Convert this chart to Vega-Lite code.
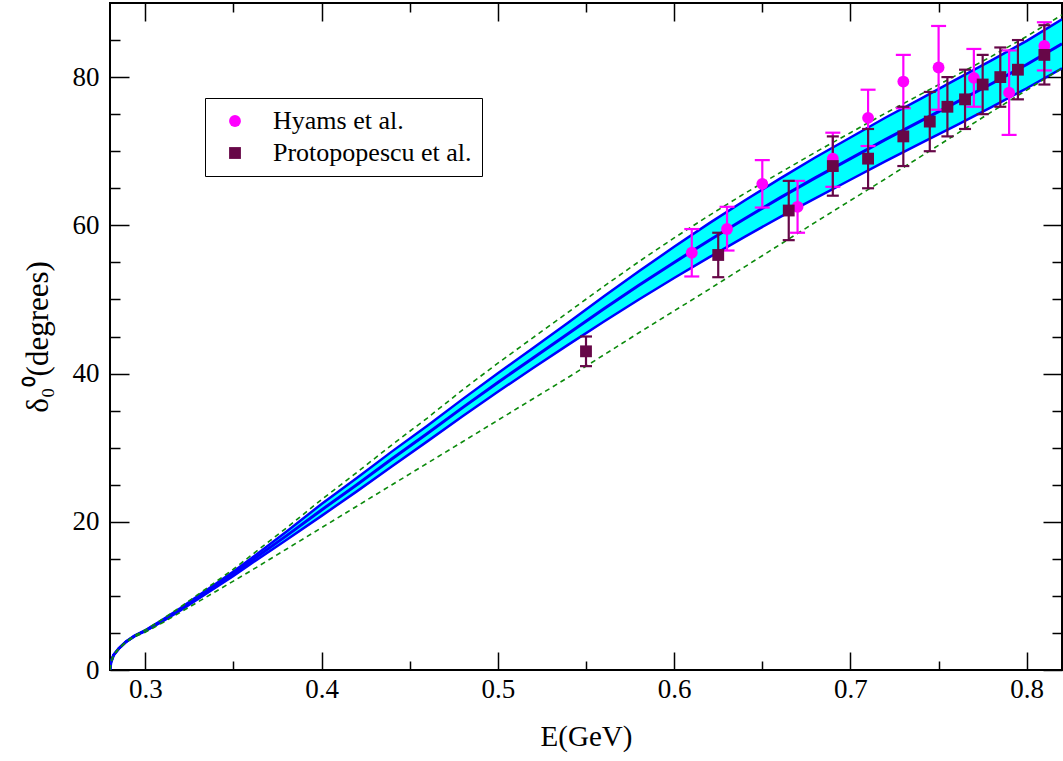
{
  "$schema": "https://vega.github.io/schema/vega-lite/v6.json",
  "width": 952,
  "height": 667,
  "autosize": "none",
  "padding": {"left": 110, "top": 3, "right": 1, "bottom": 91},
  "background": "white",
  "config": {
    "view": {"stroke": "black", "strokeWidth": 2},
    "font": "Liberation Serif",
    "axis": {
      "domain": false,
      "grid": false,
      "tickColor": "black",
      "tickWidth": 1.5,
      "labelColor": "black",
      "titleColor": "black",
      "labelFont": "Liberation Serif",
      "titleFont": "Liberation Serif",
      "labelFontSize": 27,
      "titleFontSize": 29,
      "titleFontWeight": "normal"
    },
    "legend": {
      "labelFont": "Liberation Serif",
      "labelFontSize": 26,
      "labelColor": "black",
      "labelLimit": 400
    }
  },
  "datasets": {
    "curves": [
      {"E": 0.28, "c": 0, "lo": 0, "hi": 0, "ud": 0, "ld": 0},
      {"E": 0.2805, "c": 1.0, "lo": 1.0, "hi": 1.0, "ud": 1.0, "ld": 1.0},
      {"E": 0.282, "c": 2.0, "lo": 2.0, "hi": 2.0, "ud": 2.0, "ld": 2.0},
      {"E": 0.285, "c": 2.9, "lo": 2.9, "hi": 2.9, "ud": 2.9, "ld": 2.9},
      {"E": 0.289, "c": 3.8, "lo": 3.8, "hi": 3.8, "ud": 3.8, "ld": 3.75},
      {"E": 0.294, "c": 4.6, "lo": 4.6, "hi": 4.6, "ud": 4.65, "ld": 4.5},
      {"E": 0.30, "c": 5.3, "lo": 5.25, "hi": 5.35, "ud": 5.4, "ld": 5.1},
      {"E": 0.31, "c": 6.7, "lo": 6.6, "hi": 6.8, "ud": 6.9, "ld": 6.4},
      {"E": 0.32, "c": 8.2, "lo": 8.05, "hi": 8.35, "ud": 8.5, "ld": 7.8},
      {"E": 0.33, "c": 9.8, "lo": 9.6, "hi": 10.0, "ud": 10.2, "ld": 9.2},
      {"E": 0.34, "c": 11.4, "lo": 11.15, "hi": 11.65, "ud": 11.9, "ld": 10.6},
      {"E": 0.35, "c": 13.0, "lo": 12.7, "hi": 13.3, "ud": 13.6, "ld": 12.0},
      {"E": 0.36, "c": 14.7, "lo": 14.35, "hi": 15.05, "ud": 15.45, "ld": 13.4},
      {"E": 0.38, "c": 18.1, "lo": 17.55, "hi": 18.65, "ud": 19.15, "ld": 16.3},
      {"E": 0.40, "c": 21.6, "lo": 20.8, "hi": 22.4, "ud": 23.0, "ld": 19.2},
      {"E": 0.42, "c": 25.0, "lo": 24.1, "hi": 25.9, "ud": 26.65, "ld": 22.1},
      {"E": 0.44, "c": 28.5, "lo": 27.5, "hi": 29.5, "ud": 30.4, "ld": 25.0},
      {"E": 0.46, "c": 31.9, "lo": 30.85, "hi": 32.95, "ud": 34.0, "ld": 27.9},
      {"E": 0.48, "c": 35.4, "lo": 34.25, "hi": 36.55, "ud": 37.8, "ld": 30.8},
      {"E": 0.50, "c": 38.8, "lo": 37.55, "hi": 40.05, "ud": 41.4, "ld": 33.7},
      {"E": 0.52, "c": 42.1, "lo": 40.75, "hi": 43.45, "ud": 44.85, "ld": 36.6},
      {"E": 0.54, "c": 45.4, "lo": 43.9, "hi": 46.9, "ud": 48.3, "ld": 39.5},
      {"E": 0.56, "c": 48.7, "lo": 47.0, "hi": 50.4, "ud": 51.75, "ld": 42.5},
      {"E": 0.58, "c": 51.9, "lo": 50.0, "hi": 53.8, "ud": 55.1, "ld": 45.5},
      {"E": 0.60, "c": 55.0, "lo": 52.9, "hi": 57.1, "ud": 58.3, "ld": 48.45},
      {"E": 0.62, "c": 58.0, "lo": 55.7, "hi": 60.3, "ud": 61.35, "ld": 51.4},
      {"E": 0.64, "c": 60.9, "lo": 58.45, "hi": 63.35, "ud": 64.3, "ld": 54.4},
      {"E": 0.66, "c": 63.7, "lo": 61.1, "hi": 66.3, "ud": 67.1, "ld": 57.4},
      {"E": 0.68, "c": 66.4, "lo": 63.65, "hi": 69.15, "ud": 69.85, "ld": 60.4},
      {"E": 0.70, "c": 69.0, "lo": 66.15, "hi": 71.85, "ud": 72.5, "ld": 63.35},
      {"E": 0.72, "c": 71.6, "lo": 68.65, "hi": 74.55, "ud": 75.15, "ld": 66.3},
      {"E": 0.74, "c": 74.1, "lo": 71.1, "hi": 77.1, "ud": 77.7, "ld": 69.3},
      {"E": 0.76, "c": 76.6, "lo": 73.5, "hi": 79.7, "ud": 80.25, "ld": 72.3},
      {"E": 0.78, "c": 79.1, "lo": 75.95, "hi": 82.25, "ud": 82.8, "ld": 75.3},
      {"E": 0.80, "c": 81.7, "lo": 78.5, "hi": 84.9, "ud": 85.5, "ld": 78.25},
      {"E": 0.82, "c": 84.5, "lo": 81.2, "hi": 87.8, "ud": 88.4, "ld": 81.2}
    ],
    "points": [
      {"src": "Hyams et al.", "E": 0.61, "d": 56.3, "lo": 53.1, "hi": 59.5},
      {"src": "Hyams et al.", "E": 0.63, "d": 59.5, "lo": 56.6, "hi": 62.5},
      {"src": "Hyams et al.", "E": 0.65, "d": 65.6, "lo": 62.4, "hi": 68.8},
      {"src": "Hyams et al.", "E": 0.67, "d": 62.5, "lo": 59.0, "hi": 66.0},
      {"src": "Hyams et al.", "E": 0.69, "d": 69.0, "lo": 65.2, "hi": 72.5},
      {"src": "Hyams et al.", "E": 0.71, "d": 74.5, "lo": 70.7, "hi": 78.3},
      {"src": "Hyams et al.", "E": 0.73, "d": 79.4, "lo": 75.8, "hi": 83.0},
      {"src": "Hyams et al.", "E": 0.75, "d": 81.3, "lo": 75.6, "hi": 86.9},
      {"src": "Hyams et al.", "E": 0.77, "d": 79.9, "lo": 76.0, "hi": 83.8},
      {"src": "Hyams et al.", "E": 0.79, "d": 77.9, "lo": 72.2, "hi": 83.6},
      {"src": "Hyams et al.", "E": 0.81, "d": 84.2, "lo": 80.9, "hi": 87.4},
      {"src": "Protopopescu et al.", "E": 0.55, "d": 43.0, "lo": 41.0, "hi": 45.0},
      {"src": "Protopopescu et al.", "E": 0.625, "d": 56.0, "lo": 53.0, "hi": 59.0},
      {"src": "Protopopescu et al.", "E": 0.665, "d": 62.0, "lo": 58.0, "hi": 66.0},
      {"src": "Protopopescu et al.", "E": 0.69, "d": 68.0, "lo": 64.0, "hi": 72.0},
      {"src": "Protopopescu et al.", "E": 0.71, "d": 69.0, "lo": 65.0, "hi": 73.0},
      {"src": "Protopopescu et al.", "E": 0.73, "d": 72.0, "lo": 68.0, "hi": 76.0},
      {"src": "Protopopescu et al.", "E": 0.745, "d": 74.0, "lo": 70.0, "hi": 78.0},
      {"src": "Protopopescu et al.", "E": 0.755, "d": 76.0, "lo": 72.0, "hi": 80.0},
      {"src": "Protopopescu et al.", "E": 0.765, "d": 77.0, "lo": 73.0, "hi": 81.0},
      {"src": "Protopopescu et al.", "E": 0.775, "d": 79.0, "lo": 75.0, "hi": 83.0},
      {"src": "Protopopescu et al.", "E": 0.785, "d": 80.0, "lo": 76.0, "hi": 84.0},
      {"src": "Protopopescu et al.", "E": 0.795, "d": 81.0, "lo": 77.0, "hi": 85.0},
      {"src": "Protopopescu et al.", "E": 0.81, "d": 83.0, "lo": 79.0, "hi": 87.0}
    ]
  },
  "resolve": {"axis": {"x": "independent", "y": "independent"}},
  "layer": [
    {
      "data": {"name": "curves"},
      "mark": {"type": "area", "color": "#00ffff", "opacity": 1, "clip": true},
      "encoding": {
        "x": {
          "field": "E", "type": "quantitative",
          "scale": {"domain": [0.28, 0.82], "nice": false, "zero": false},
          "axis": {
            "orient": "bottom",
            "values": [0.3, 0.35, 0.4, 0.45, 0.5, 0.55, 0.6, 0.65, 0.7, 0.75, 0.8],
            "format": ".1f",
            "labelExpr": "abs(datum.value*10 - round(datum.value*10)) < 0.001 ? datum.label : ''",
            "tickSize": {"condition": {"test": "abs(datum.value*10 - round(datum.value*10)) < 0.001", "value": -18}, "value": -9},
            "labelFontSize": 27,
            "labelPadding": 24,
            "title": "E(GeV)",
            "titleFontSize": 29,
            "titlePadding": 20,
            "encode": {"labels": {"update": {"fontSize": {"value": 27}}}}
          }
        },
        "y": {
          "field": "lo", "type": "quantitative",
          "scale": {"domain": [0, 90], "nice": false, "zero": false},
          "axis": {
            "orient": "left",
            "values": [0, 5, 10, 15, 20, 25, 30, 35, 40, 45, 50, 55, 60, 65, 70, 75, 80, 85],
            "labelExpr": "datum.value % 20 == 0 ? datum.label : ''",
            "tickSize": {"condition": {"test": "datum.value % 20 == 0", "value": -19}, "value": -10},
            "labelFontSize": 27,
            "labelPadding": 30,
            "title": "δ₀⁰(degrees)",
            "titleFontSize": 31,
            "titlePadding": 18,
            "encode": {"labels": {"update": {"fontSize": {"value": 27}}}}
          }
        },
        "y2": {"field": "hi"}
      }
    },
    {
      "data": {"name": "curves"},
      "mark": {"type": "line", "color": "#0000ff", "strokeWidth": 3, "clip": true},
      "encoding": {
        "x": {
          "field": "E", "type": "quantitative",
          "axis": {
            "orient": "top",
            "values": [0.3, 0.35, 0.4, 0.45, 0.5, 0.55, 0.6, 0.65, 0.7, 0.75, 0.8],
            "labels": false,
            "tickSize": {"condition": {"test": "abs(datum.value*10 - round(datum.value*10)) < 0.001", "value": -18}, "value": -9},
            "title": null
          }
        },
        "y": {
          "field": "c", "type": "quantitative",
          "axis": {
            "orient": "right",
            "values": [0, 5, 10, 15, 20, 25, 30, 35, 40, 45, 50, 55, 60, 65, 70, 75, 80, 85],
            "labels": false,
            "tickSize": {"condition": {"test": "datum.value % 20 == 0", "value": -19}, "value": -10},
            "title": null
          }
        }
      }
    },
    {
      "data": {"name": "curves"},
      "mark": {"type": "line", "color": "#0000ff", "strokeWidth": 2.5, "clip": true},
      "encoding": {
        "x": {"field": "E", "type": "quantitative", "axis": null},
        "y": {"field": "lo", "type": "quantitative", "axis": null}
      }
    },
    {
      "data": {"name": "curves"},
      "mark": {"type": "line", "color": "#0000ff", "strokeWidth": 2.5, "clip": true},
      "encoding": {
        "x": {"field": "E", "type": "quantitative", "axis": null},
        "y": {"field": "hi", "type": "quantitative", "axis": null}
      }
    },
    {
      "data": {"name": "curves"},
      "mark": {"type": "line", "color": "#0b8a0b", "strokeWidth": 1.6, "strokeDash": [5, 4], "clip": true},
      "encoding": {
        "x": {"field": "E", "type": "quantitative", "axis": null},
        "y": {"field": "ud", "type": "quantitative", "axis": null}
      }
    },
    {
      "data": {"name": "curves"},
      "mark": {"type": "line", "color": "#0b8a0b", "strokeWidth": 1.6, "strokeDash": [5, 4], "clip": true},
      "encoding": {
        "x": {"field": "E", "type": "quantitative", "axis": null},
        "y": {"field": "ld", "type": "quantitative", "axis": null}
      }
    },
    {
      "data": {"name": "points"},
      "transform": [{"filter": "datum.src == 'Hyams et al.'"}],
      "mark": {"type": "rule", "strokeWidth": 2.2, "color": "#ff00ff", "clip": true},
      "encoding": {
        "x": {"field": "E", "type": "quantitative", "axis": null},
        "y": {"field": "lo", "type": "quantitative", "axis": null},
        "y2": {"field": "hi"}
      }
    },
    {
      "data": {"name": "points"},
      "transform": [{"filter": "datum.src == 'Hyams et al.'"}],
      "mark": {"type": "tick", "orient": "horizontal", "size": 15, "thickness": 2.2, "color": "#ff00ff", "opacity": 1, "clip": true},
      "encoding": {
        "x": {"field": "E", "type": "quantitative", "axis": null},
        "y": {"field": "lo", "type": "quantitative", "axis": null}
      }
    },
    {
      "data": {"name": "points"},
      "transform": [{"filter": "datum.src == 'Hyams et al.'"}],
      "mark": {"type": "tick", "orient": "horizontal", "size": 15, "thickness": 2.2, "color": "#ff00ff", "opacity": 1, "clip": true},
      "encoding": {
        "x": {"field": "E", "type": "quantitative", "axis": null},
        "y": {"field": "hi", "type": "quantitative", "axis": null}
      }
    },
    {
      "data": {"name": "points"},
      "transform": [{"filter": "datum.src == 'Protopopescu et al.'"}],
      "mark": {"type": "rule", "strokeWidth": 2.2, "color": "#670748", "clip": true},
      "encoding": {
        "x": {"field": "E", "type": "quantitative", "axis": null},
        "y": {"field": "lo", "type": "quantitative", "axis": null},
        "y2": {"field": "hi"}
      }
    },
    {
      "data": {"name": "points"},
      "transform": [{"filter": "datum.src == 'Protopopescu et al.'"}],
      "mark": {"type": "tick", "orient": "horizontal", "size": 12, "thickness": 2.2, "color": "#670748", "opacity": 1, "clip": true},
      "encoding": {
        "x": {"field": "E", "type": "quantitative", "axis": null},
        "y": {"field": "lo", "type": "quantitative", "axis": null}
      }
    },
    {
      "data": {"name": "points"},
      "transform": [{"filter": "datum.src == 'Protopopescu et al.'"}],
      "mark": {"type": "tick", "orient": "horizontal", "size": 12, "thickness": 2.2, "color": "#670748", "opacity": 1, "clip": true},
      "encoding": {
        "x": {"field": "E", "type": "quantitative", "axis": null},
        "y": {"field": "hi", "type": "quantitative", "axis": null}
      }
    },
    {
      "data": {"name": "points"},
      "mark": {"type": "point", "filled": true, "opacity": 1, "size": 140, "clip": true},
      "encoding": {
        "x": {"field": "E", "type": "quantitative", "axis": null},
        "y": {"field": "d", "type": "quantitative", "axis": null},
        "color": {
          "field": "src", "type": "nominal",
          "scale": {"domain": ["Hyams et al.", "Protopopescu et al."], "range": ["#ff00ff", "#670748"]},
          "legend": {
            "orient": "none",
            "legendX": 95,
            "legendY": 95,
            "title": null,
            "padding": 10,
            "rowPadding": 6,
            "symbolOffset": 7,
            "labelOffset": 25,
            "labelFont": "Liberation Serif",
            "labelFontSize": 26,
            "labelLimit": 400,
            "symbolSize": 140,
            "strokeColor": "black",
            "fillColor": "white"
          }
        },
        "shape": {
          "field": "src", "type": "nominal",
          "scale": {"domain": ["Hyams et al.", "Protopopescu et al."], "range": ["circle", "square"]},
          "legend": {
            "orient": "none",
            "legendX": 95,
            "legendY": 95,
            "title": null,
            "padding": 10,
            "rowPadding": 6,
            "symbolOffset": 7,
            "labelOffset": 25,
            "labelFont": "Liberation Serif",
            "labelFontSize": 26,
            "labelLimit": 400,
            "symbolSize": 140,
            "strokeColor": "black",
            "fillColor": "white"
          }
        }
      }
    }
  ]
}
